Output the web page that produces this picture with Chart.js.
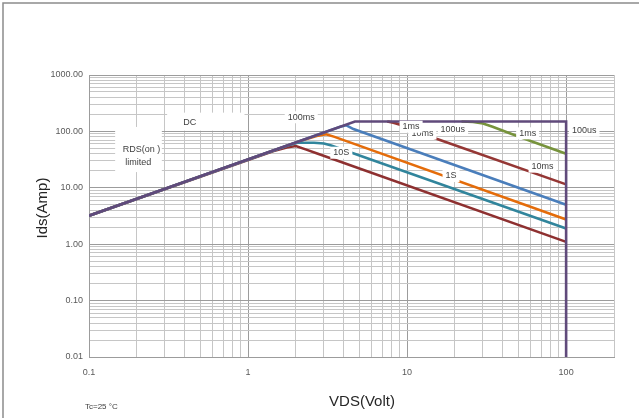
<!DOCTYPE html>
<html>
<head>
<meta charset="utf-8">
<script src="https://cdn.jsdelivr.net/npm/chart.js@4.4.0/dist/chart.umd.min.js"></script>
<style>
  html, body { margin: 0; padding: 0; background: #fff; }
</style>
</head>
<body>
<canvas id="soaChart" width="639" height="418"></canvas>
<script>
// axis limits and labelled ticks
const xMin = 0.1, xMax = 200;
const yMin = 0.01, yMax = 1000;
const xTickLabels = [0.1, 1, 10, 100];
const yTickLabels = [0.01, 0.1, 1, 10, 100, 1000];

// curves as [VDS, Ids] pairs
const curve100us = [[0.1, 3.2], [4.7, 150], [100, 150], [100, 0.01]];
const curve1ms = [[22, 150], [26, 147], [30, 138], [34.5, 121], [45, 91], [61, 66], [100, 40]];
const curve10ms = [[7.5, 150], [8.2, 143], [9.6, 125], [15.3, 74], [100, 11.5]];
const curve100ms = [[0.1, 3.2], [3.8, 121], [4.15, 128], [4.6, 110], [100, 5.0]];
const curve1s = [[0.1, 3.2], [2.2, 70], [2.7, 83], [3.1, 89], [3.5, 80], [100, 2.75]];
const curve10s = [[0.1, 3.2], [1.8, 57], [2.05, 63], [2.6, 63], [3.0, 61], [3.3, 57], [100, 1.9]];
const curveDC = [[0.1, 3.2], [1.45, 45], [1.75, 52], [2.0, 55], [2.3, 48], [2.75, 40], [100, 1.1]];

// in-plot labels (data coordinates)
const noteText = ['100ms', '10ms', '1ms', '100us', '1ms', '100us', '10ms', '1S', '10S'];
const noteV = [2.16, 12.5, 10.6, 19.4, 57.3, 130, 71.1, 18.9, 3.86];
const noteI = [178, 91.8, 121, 109, 92.5, 103, 23.7, 16.2, 41.9];

const FONT = "'Liberation Sans Narrow', 'Liberation Sans', Arial, sans-serif";

function isDecade(v) {
    const l = Math.log10(v);
    return Math.abs(l - Math.round(l)) < 1e-6;
}

function gridValues(decades, max) {
    const vals = [];
    decades.forEach(d => {
        for (let m = 1; m <= 9; m++) {
            const v = d * m;
            if (v <= max * 1.0001) vals.push(v);
        }
    });
    return vals;
}

function toPoints(pairs) {
    return pairs.map(p => ({ x: p[0], y: p[1] }));
}

function whiteBox(ctx, x0, y0, x1, y1) {
    ctx.fillStyle = '#ffffff';
    ctx.fillRect(Math.min(x0, x1), Math.min(y0, y1), Math.abs(x1 - x0), Math.abs(y1 - y0));
}

const notes = {
    id: 'notes',
    afterDatasetsDraw(chart) {
        const { ctx, scales: { x, y } } = chart;
        ctx.save();
        ctx.textAlign = 'center';
        ctx.textBaseline = 'middle';
        ctx.font = '9px ' + FONT;

        // DC text box
        whiteBox(ctx, x.getPixelForValue(0.31), y.getPixelForValue(215), x.getPixelForValue(0.95), y.getPixelForValue(103));
        ctx.fillStyle = '#404040';
        ctx.fillText('DC', x.getPixelForValue(0.43), y.getPixelForValue(141));

        // RDS(on) limited text box
        whiteBox(ctx, x.getPixelForValue(0.146), y.getPixelForValue(120), x.getPixelForValue(0.287), y.getPixelForValue(19));
        ctx.fillStyle = '#404040';
        ctx.fillText('RDS(on )', x.getPixelForValue(0.214), y.getPixelForValue(48));
        ctx.fillText('limited', x.getPixelForValue(0.204), y.getPixelForValue(28));

        noteText.forEach((t, i) => {
            const px = x.getPixelForValue(noteV[i]);
            const py = y.getPixelForValue(noteI[i]);
            const w = ctx.measureText(t).width + 6;
            whiteBox(ctx, px - w / 2, py - 6, px + w / 2, py + 6);
            ctx.fillStyle = '#404040';
            ctx.fillText(t, px, py);
        });
        ctx.restore();
    },
    afterDraw(chart) {
        const { ctx } = chart;
        ctx.save();
        // frame
        ctx.strokeStyle = '#8c8c8c';
        ctx.lineWidth = 1.5;
        ctx.beginPath();
        ctx.moveTo(3, 418);
        ctx.lineTo(3, 3);
        ctx.lineTo(639, 3);
        ctx.stroke();

        ctx.fillStyle = '#262626';
        ctx.textAlign = 'center';
        ctx.textBaseline = 'middle';
        ctx.font = '15px ' + FONT;
        ctx.fillText('VDS(Volt)', 362, 402);
        ctx.translate(43, 208);
        ctx.rotate(-Math.PI / 2);
        ctx.fillText('Ids(Amp)', 0, 0);
        ctx.restore();

        ctx.save();
        ctx.fillStyle = '#404040';
        ctx.font = '8px ' + FONT;
        ctx.textAlign = 'left';
        ctx.textBaseline = 'middle';
        ctx.fillText('Tc=25 °C', 85, 407);
        ctx.restore();
    }
};

function lineSet(label, pairs, color) {
    return {
        label: label,
        data: toPoints(pairs),
        showLine: true,
        borderColor: color,
        backgroundColor: color,
        borderWidth: 2.6,
        pointRadius: 0,
        tension: 0
    };
}

const gridColor = c => (c.tick && isDecade(c.tick.value)) ? '#9c9c9c' : '#c6c6c6';

new Chart(document.querySelector('#soaChart').getContext('2d'), {
    type: 'scatter',
    data: {
        datasets: [
            lineSet('100us', curve100us, '#604a7b'),
            lineSet('1ms', curve1ms, '#77933c'),
            lineSet('10ms', curve10ms, '#953735'),
            lineSet('100ms', curve100ms, '#4a7ebb'),
            lineSet('1S', curve1s, '#e46c0a'),
            lineSet('10S', curve10s, '#31859c'),
            lineSet('DC', curveDC, '#8e3030')
        ]
    },
    options: {
        responsive: false,
        animation: false,
        layout: { padding: { left: 0, top: 75, right: 25, bottom: 0 } },
        plugins: {
            legend: { display: false },
            tooltip: { enabled: false }
        },
        scales: {
            x: {
                type: 'logarithmic',
                min: xMin,
                max: xMax,
                afterBuildTicks: s => { s.ticks = gridValues(xTickLabels, xMax).map(v => ({ value: v })); },
                afterFit: s => { s.height = 61; },
                ticks: {
                    autoSkip: false,
                    maxRotation: 0,
                    padding: 10,
                    color: '#595959',
                    font: { family: FONT, size: 9 },
                    callback: v => isDecade(v) ? String(Number(v.toPrecision(3))) : ''
                },
                grid: { color: gridColor, drawTicks: false },
                border: { color: '#9c9c9c' }
            },
            y: {
                type: 'logarithmic',
                min: yMin,
                max: yMax,
                afterBuildTicks: s => { s.ticks = gridValues(yTickLabels, yMax).map(v => ({ value: v })); },
                afterFit: s => { s.width = 89; },
                ticks: {
                    autoSkip: false,
                    padding: 6,
                    color: '#595959',
                    font: { family: FONT, size: 9 },
                    callback: v => isDecade(v) ? v.toFixed(2) : ''
                },
                grid: { color: gridColor, drawTicks: false },
                border: { color: '#9c9c9c' }
            }
        }
    },
    plugins: [notes]
});
</script>
</body>
</html>
